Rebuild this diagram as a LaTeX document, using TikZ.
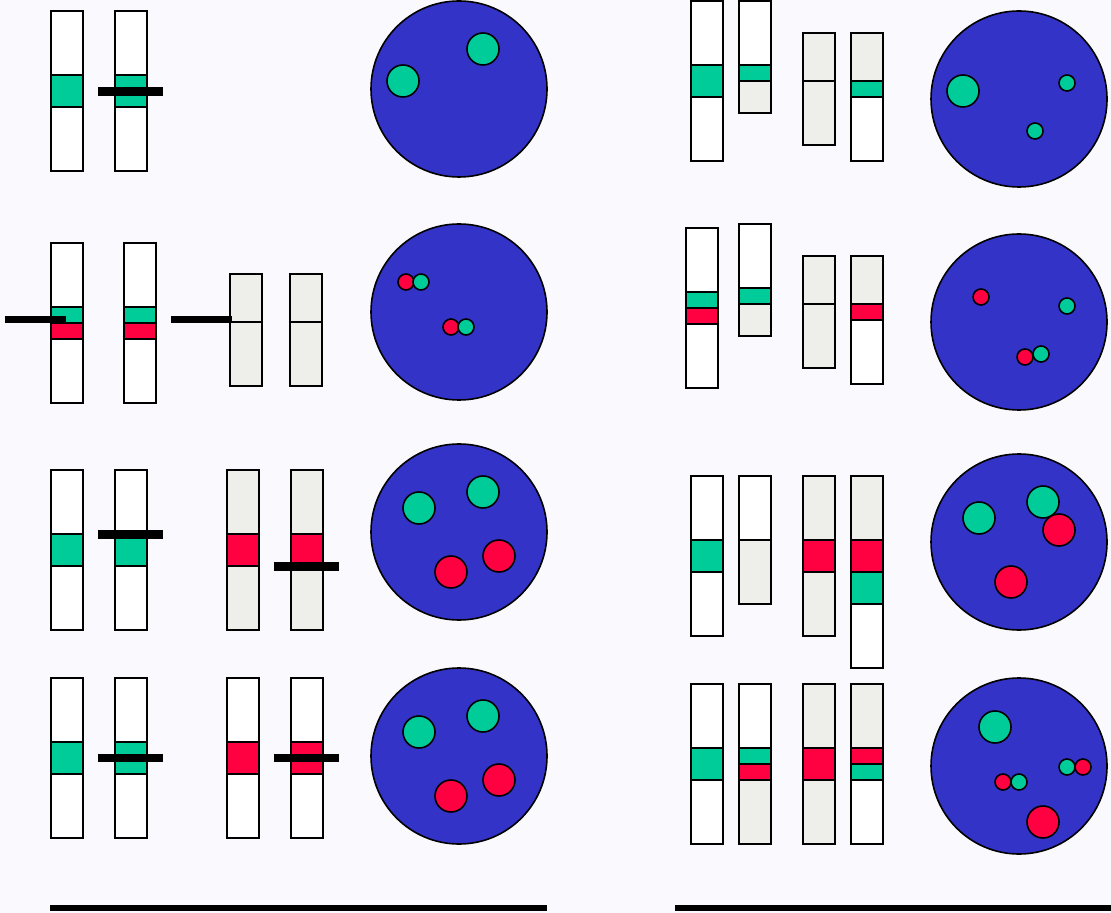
\documentclass[tikz,border=0pt]{standalone}
\usepackage{tikz}
\definecolor{paper}{HTML}{FAFAFE}
\definecolor{nucleus}{HTML}{3333C8}
\definecolor{allelegreen}{HTML}{00CC99}
\definecolor{allelered}{HTML}{FF0040}
\definecolor{grain}{HTML}{EEEEEA}

% one piece of a chromosome: x, top, bottom, style
\newcommand{\chromband}[4]{\draw[chrom,#4] (#1,#2) rectangle (#1+32,#3);}

\begin{document}
\begin{tikzpicture}[x=0.5pt,y=-0.5pt]
  \tikzstyle{chrom}=[draw=black, line width=1pt]
  \tikzstyle{plain}=[fill=white]
  \tikzstyle{grey}=[fill=grain]
  \tikzstyle{grn}=[fill=allelegreen]
  \tikzstyle{rd}=[fill=allelered]
  \tikzstyle{bar}=[draw=black, line width=4.3pt]
  \tikzstyle{thinbar}=[draw=black, line width=3.4pt]
  \tikzstyle{cell}=[draw=black, line width=0.8pt, fill=nucleus]
  \tikzstyle{spot}=[draw=black, line width=0.8pt]

  \path[use as bounding box, fill=paper] (0,0) rectangle (1111,913);

  % ---- left column, row 1
  \chromband{51}{11}{75}{plain}
  \chromband{51}{75}{107}{grn}
  \chromband{51}{107}{171}{plain}
  \chromband{115}{11}{75}{plain}
  \chromband{115}{75}{107}{grn}
  \chromband{115}{107}{171}{plain}
  \draw[bar] (98,91.5) -- (163,91.5);
  \draw[cell] (459,89) circle[radius=88];
  \draw[spot, grn] (483,49) circle[radius=16];
  \draw[spot, grn] (403,81) circle[radius=16];

  % ---- left column, row 2
  \chromband{51}{243}{307}{plain}
  \chromband{51}{307}{323}{grn}
  \chromband{51}{323}{339}{rd}
  \chromband{51}{339}{403}{plain}
  \chromband{124}{243}{307}{plain}
  \chromband{124}{307}{323}{grn}
  \chromband{124}{323}{339}{rd}
  \chromband{124}{339}{403}{plain}
  \chromband{230}{274}{322}{grey}
  \chromband{230}{322}{386}{grey}
  \chromband{290}{274}{322}{grey}
  \chromband{290}{322}{386}{grey}
  \draw[thinbar] (5,319.5) -- (66,319.5);
  \draw[thinbar] (171,319.5) -- (232,319.5);
  \draw[cell] (459,312) circle[radius=88];
  \draw[spot, rd] (406,282) circle[radius=8];
  \draw[spot, grn] (421,282) circle[radius=8];
  \draw[spot, rd] (451,327) circle[radius=8];
  \draw[spot, grn] (466,327) circle[radius=8];

  % ---- left column, row 3
  \chromband{51}{470}{534}{plain}
  \chromband{51}{534}{566}{grn}
  \chromband{51}{566}{630}{plain}
  \chromband{115}{470}{534}{plain}
  \chromband{115}{534}{566}{grn}
  \chromband{115}{566}{630}{plain}
  \chromband{227}{470}{534}{grey}
  \chromband{227}{534}{566}{rd}
  \chromband{227}{566}{630}{grey}
  \chromband{291}{470}{534}{grey}
  \chromband{291}{534}{566}{rd}
  \chromband{291}{566}{630}{grey}
  \draw[bar] (98,534.5) -- (163,534.5);
  \draw[bar] (274,566.5) -- (339,566.5);
  \draw[cell] (459,532) circle[radius=88];
  \draw[spot, grn] (419,508) circle[radius=16];
  \draw[spot, grn] (483,492) circle[radius=16];
  \draw[spot, rd] (451,572) circle[radius=16];
  \draw[spot, rd] (499,556) circle[radius=16];

  % ---- left column, row 4
  \chromband{51}{678}{742}{plain}
  \chromband{51}{742}{774}{grn}
  \chromband{51}{774}{838}{plain}
  \chromband{115}{678}{742}{plain}
  \chromband{115}{742}{774}{grn}
  \chromband{115}{774}{838}{plain}
  \chromband{227}{678}{742}{plain}
  \chromband{227}{742}{774}{rd}
  \chromband{227}{774}{838}{plain}
  \chromband{291}{678}{742}{plain}
  \chromband{291}{742}{774}{rd}
  \chromband{291}{774}{838}{plain}
  \draw[bar] (98,758) -- (163,758);
  \draw[bar] (274,758) -- (339,758);
  \draw[cell] (459,756) circle[radius=88];
  \draw[spot, grn] (419,732) circle[radius=16];
  \draw[spot, grn] (483,716) circle[radius=16];
  \draw[spot, rd] (451,796) circle[radius=16];
  \draw[spot, rd] (499,780) circle[radius=16];

  % ---- right column, row 1
  \chromband{691}{1}{65}{plain}
  \chromband{691}{65}{97}{grn}
  \chromband{691}{97}{161}{plain}
  \chromband{739}{1}{65}{plain}
  \chromband{739}{65}{81}{grn}
  \chromband{739}{81}{113}{grey}
  \chromband{803}{33}{81}{grey}
  \chromband{803}{81}{145}{grey}
  \chromband{851}{33}{81}{grey}
  \chromband{851}{81}{97}{grn}
  \chromband{851}{97}{161}{plain}
  \draw[cell] (1019,99) circle[radius=88];
  \draw[spot, grn] (963,91) circle[radius=16];
  \draw[spot, grn] (1067,83) circle[radius=8];
  \draw[spot, grn] (1035,131) circle[radius=8];

  % ---- right column, row 2
  \chromband{686}{228}{292}{plain}
  \chromband{686}{292}{308}{grn}
  \chromband{686}{308}{324}{rd}
  \chromband{686}{324}{388}{plain}
  \chromband{739}{224}{288}{plain}
  \chromband{739}{288}{304}{grn}
  \chromband{739}{304}{336}{grey}
  \chromband{803}{256}{304}{grey}
  \chromband{803}{304}{368}{grey}
  \chromband{851}{256}{304}{grey}
  \chromband{851}{304}{320}{rd}
  \chromband{851}{320}{384}{plain}
  \draw[cell] (1019,322) circle[radius=88];
  \draw[spot, rd] (981,297) circle[radius=8];
  \draw[spot, grn] (1067,306) circle[radius=8];
  \draw[spot, grn] (1041,354) circle[radius=8];
  \draw[spot, rd] (1025,357) circle[radius=8];

  % ---- right column, row 3
  \chromband{691}{476}{540}{plain}
  \chromband{691}{540}{572}{grn}
  \chromband{691}{572}{636}{plain}
  \chromband{739}{476}{540}{plain}
  \chromband{739}{540}{604}{grey}
  \chromband{803}{476}{540}{grey}
  \chromband{803}{540}{572}{rd}
  \chromband{803}{572}{636}{grey}
  \chromband{851}{476}{540}{grey}
  \chromband{851}{540}{572}{rd}
  \chromband{851}{572}{604}{grn}
  \chromband{851}{604}{668}{plain}
  \draw[cell] (1019,542) circle[radius=88];
  \draw[spot, grn] (979,518) circle[radius=16];
  \draw[spot, grn] (1043,502) circle[radius=16];
  \draw[spot, rd] (1059,530) circle[radius=16];
  \draw[spot, rd] (1011,582) circle[radius=16];

  % ---- right column, row 4
  \chromband{691}{684}{748}{plain}
  \chromband{691}{748}{780}{grn}
  \chromband{691}{780}{844}{plain}
  \chromband{739}{684}{748}{plain}
  \chromband{739}{748}{764}{grn}
  \chromband{739}{764}{780}{rd}
  \chromband{739}{780}{844}{grey}
  \chromband{803}{684}{748}{grey}
  \chromband{803}{748}{780}{rd}
  \chromband{803}{780}{844}{grey}
  \chromband{851}{684}{748}{grey}
  \chromband{851}{748}{764}{rd}
  \chromband{851}{764}{780}{grn}
  \chromband{851}{780}{844}{plain}
  \draw[cell] (1019,766) circle[radius=88];
  \draw[spot, grn] (995,727) circle[radius=16];
  \draw[spot, rd] (1003,782) circle[radius=8];
  \draw[spot, grn] (1019,782) circle[radius=8];
  \draw[spot, grn] (1067,767) circle[radius=8];
  \draw[spot, rd] (1083,767) circle[radius=8];
  \draw[spot, rd] (1043,822) circle[radius=16];

  % ---- baselines
  \draw[draw=black, line width=2.6pt] (50,908) -- (547,908);
  \draw[draw=black, line width=2.6pt] (675,908) -- (1111,908);
\end{tikzpicture}
\end{document}
